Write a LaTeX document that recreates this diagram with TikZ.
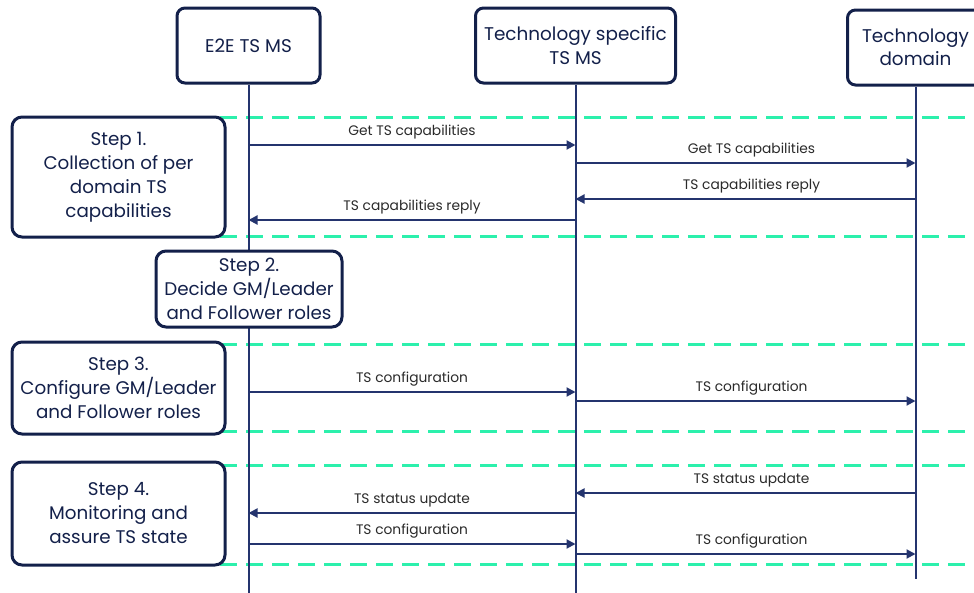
\documentclass[tikz,border=0pt]{standalone}
\usepackage{fontspec}
\setmainfont{Poppins}
\usetikzlibrary{arrows.meta}
\definecolor{navy}{HTML}{13204A}
\definecolor{lifeblue}{HTML}{24346E}
\definecolor{mint}{HTML}{2CF0AC}
\definecolor{labelgrey}{HTML}{2A2A2A}
\tikzset{
  actor/.style={draw=navy, line width=3pt, rounded corners=8pt, fill=white,
    text=navy, align=center, font=\fontsize{18.4}{23.5}\selectfont, inner sep=0pt},
  stepbox/.style={draw=navy, line width=3pt, rounded corners=10pt, fill=white,
    text=navy, align=center, font=\fontsize{18.3}{24}\selectfont, inner sep=0pt},
  life/.style={draw=lifeblue, line width=2pt},
  msg/.style={draw=lifeblue, line width=2pt, -{Triangle[length=9pt,width=9pt]}},
  lbl/.style={above=5pt, text=labelgrey, font=\fontsize{13.8}{16}\selectfont, inner sep=0pt},
  rlbl/.style={lbl, xshift=6pt},
  sep/.style={draw=mint, line width=3pt, dash pattern=on 17pt off 9pt}
}
\begin{document}
\begin{tikzpicture}[x=1pt, y=-1pt]
\useasboundingbox (0,0) rectangle (974,592);

% section separators
\foreach \yy in {117,236,344,431,465,564}
  \draw[sep] (220,\yy) -- (980,\yy);

% participants
\node[actor, minimum width=143pt, minimum height=75pt] (e2e) at (248.5,45.5) {E2E TS MS};
\node[actor, minimum width=200pt, minimum height=75pt] (tss) at (575.5,45.5) {Technology specific\\TS MS};
\node[actor, minimum width=136pt, minimum height=75pt] (dom) at (915.5,47.5) {Technology\\domain};

% lifeline ends
\coordinate (e2eEnd) at (e2e.south |- 0,594);
\coordinate (tssEnd) at (tss.south |- 0,594);
\coordinate (domEnd) at (dom.south |- 0,579);
\draw[life] (e2e.south) -- (e2eEnd);
\draw[life] (tss.south) -- (tssEnd);
\draw[life] (dom.south) -- (domEnd);

% steps
\node[stepbox, minimum width=213pt, minimum height=120pt] (s1) at (118.5,177) {Step 1.\\Collection of per\\domain TS\\capabilities};
\node[stepbox, minimum width=186pt, minimum height=76pt] (s2) at (249,289) {Step 2.\\Decide GM/Leader\\and Follower roles};
\node[stepbox, minimum width=213pt, minimum height=92pt] (s3) at (118.5,388) {Step 3.\\Configure GM/Leader\\and Follower roles};
\node[stepbox, minimum width=213pt, minimum height=103pt] (s4) at (118.5,513.5) {Step 4.\\Monitoring and\\assure TS state};

% messages
\draw[msg] (e2e.south |- 0,145) -- node[lbl]{Get TS capabilities} (tss.south |- 0,145);
\draw[msg] (tss.south |- 0,163) -- node[rlbl]{Get TS capabilities} (dom.south |- 0,163);
\draw[msg] (dom.south |- 0,199) -- node[rlbl]{TS capabilities reply} (tss.south |- 0,199);
\draw[msg] (tss.south |- 0,220) -- node[lbl]{TS capabilities reply} (e2e.south |- 0,220);

\draw[msg] (e2e.south |- 0,392) -- node[lbl]{TS configuration} (tss.south |- 0,392);
\draw[msg] (tss.south |- 0,401) -- node[rlbl]{TS configuration} (dom.south |- 0,401);

\draw[msg] (dom.south |- 0,493) -- node[rlbl]{TS status update} (tss.south |- 0,493);
\draw[msg] (tss.south |- 0,513) -- node[lbl]{TS status update} (e2e.south |- 0,513);
\draw[msg] (e2e.south |- 0,544) -- node[lbl]{TS configuration} (tss.south |- 0,544);
\draw[msg] (tss.south |- 0,554) -- node[rlbl]{TS configuration} (dom.south |- 0,554);
\end{tikzpicture}
\end{document}
